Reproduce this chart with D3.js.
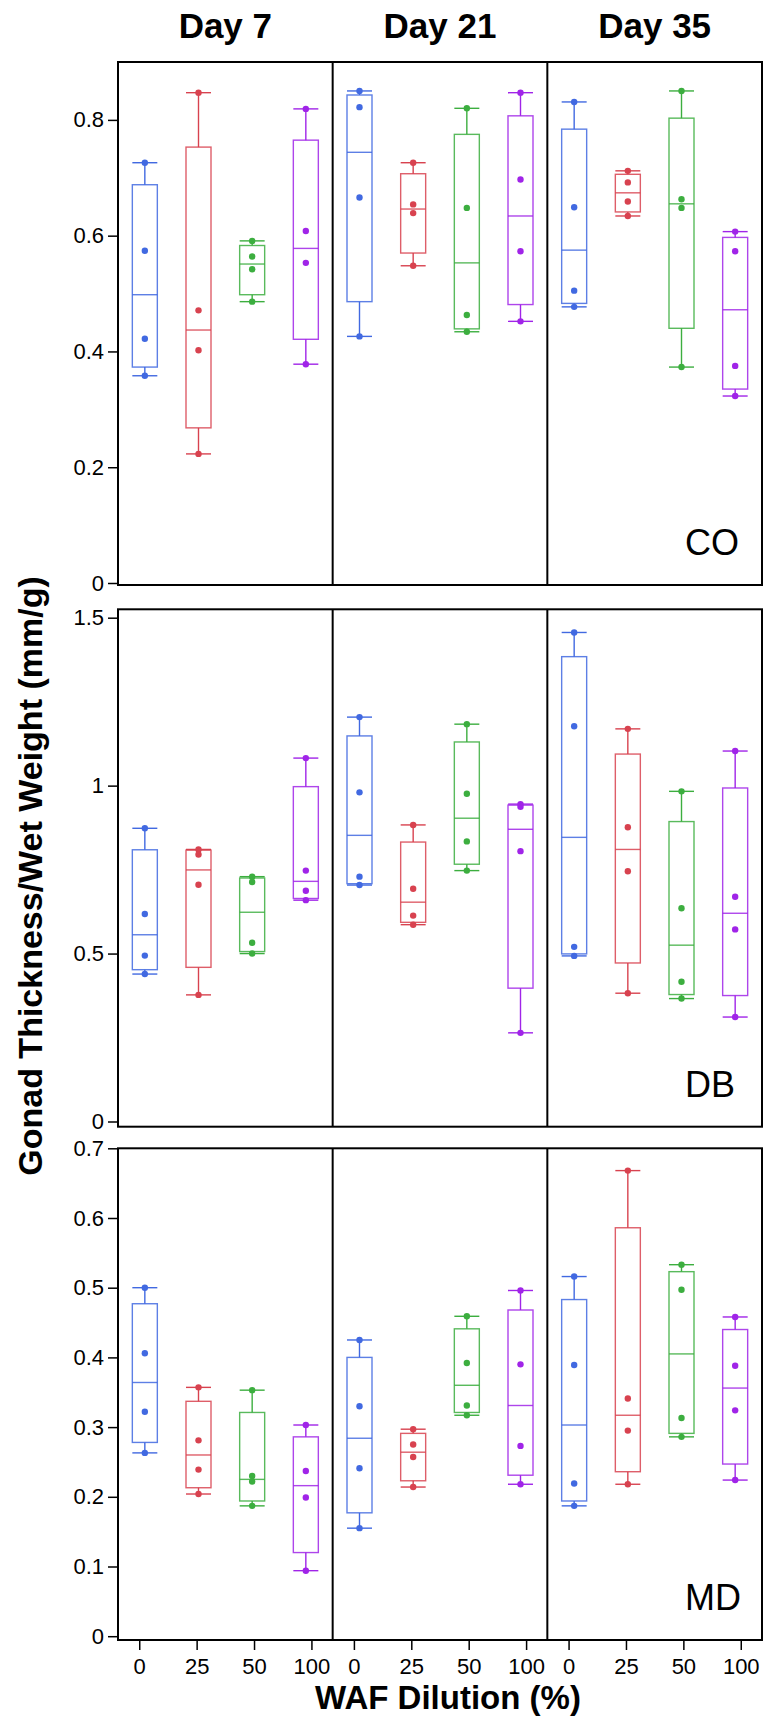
<!DOCTYPE html>
<html lang="en">
<head>
  <meta charset="UTF-8">
  <title>Gonad Thickness/Wet Weight</title>
  <script src="https://d3js.org/d3.v7.min.js"></script>
  <style>
    body { margin: 0; background: #fff; }
    svg text { font-family: "Liberation Sans", Arial, sans-serif; fill: #000; }
  </style>
</head>
<body>
  <div id="chart"></div>

  <script>
    // categories
    const days = ["Day 7", "Day 21", "Day 35"];
    const doses = ["0", "25", "50", "100"];
    const tissues = ["CO", "DB", "MD"];
    const doseColors = ["#4169e1", "#d8424f", "#3cae3f", "#a024e8"];

    // y ticks for each tissue panel
    const coTicks = [0, 0.2, 0.4, 0.6, 0.8];
    const dbTicks = [0, 0.5, 1, 1.5];
    const mdTicks = [0, 0.1, 0.2, 0.3, 0.4, 0.5, 0.6, 0.7];

    // raw points, one list per group (Day 7: 0,25,50,100 | Day 21 ... | Day 35 ...)
    const coPoints = [
      [0.726, 0.574, 0.422, 0.358], [0.847, 0.471, 0.402, 0.223], [0.591, 0.564, 0.542, 0.486], [0.819, 0.608, 0.553, 0.378],
      [0.850, 0.822, 0.666, 0.426], [0.726, 0.654, 0.639, 0.548], [0.820, 0.648, 0.463, 0.434], [0.847, 0.697, 0.573, 0.452],
      [0.831, 0.649, 0.505, 0.477], [0.712, 0.692, 0.659, 0.634], [0.850, 0.663, 0.648, 0.373], [0.607, 0.573, 0.375, 0.323]
    ];
    // box stats [q1, median, q3]
    const coBoxes = [
      [0.373, 0.498, 0.688], [0.268, 0.437, 0.753], [0.498, 0.551, 0.583], [0.421, 0.578, 0.765],
      [0.486, 0.744, 0.843], [0.570, 0.646, 0.707], [0.439, 0.553, 0.775], [0.481, 0.634, 0.807],
      [0.483, 0.575, 0.784], [0.641, 0.674, 0.706], [0.440, 0.655, 0.803], [0.335, 0.472, 0.597]
    ];

    const dbPoints = [
      [0.873, 0.618, 0.494, 0.439], [0.810, 0.795, 0.705, 0.377], [0.729, 0.713, 0.532, 0.500], [1.082, 0.747, 0.687, 0.659],
      [1.204, 0.980, 0.729, 0.704], [0.883, 0.693, 0.613, 0.586], [1.183, 0.976, 0.834, 0.747], [0.945, 0.937, 0.805, 0.264],
      [1.456, 1.177, 0.520, 0.493], [1.169, 0.876, 0.745, 0.382], [0.983, 0.635, 0.416, 0.366], [1.103, 0.669, 0.572, 0.311]
    ];
    const dbBoxes = [
      [0.452, 0.556, 0.809], [0.459, 0.749, 0.808], [0.506, 0.623, 0.725], [0.664, 0.715, 0.997],
      [0.708, 0.852, 1.148], [0.593, 0.653, 0.832], [0.766, 0.903, 1.130], [0.397, 0.870, 0.942],
      [0.499, 0.846, 1.384], [0.472, 0.810, 1.094], [0.378, 0.525, 0.893], [0.375, 0.620, 0.993]
    ];

    const mdPoints = [
      [0.500, 0.406, 0.322, 0.263], [0.357, 0.281, 0.239, 0.204], [0.353, 0.230, 0.222, 0.187], [0.303, 0.237, 0.199, 0.094],
      [0.425, 0.330, 0.241, 0.155], [0.297, 0.275, 0.257, 0.214], [0.459, 0.392, 0.331, 0.317], [0.496, 0.390, 0.273, 0.218],
      [0.516, 0.389, 0.219, 0.187], [0.668, 0.341, 0.295, 0.218], [0.533, 0.497, 0.313, 0.286], [0.458, 0.388, 0.324, 0.224]
    ];
    const mdBoxes = [
      [0.278, 0.364, 0.477], [0.213, 0.260, 0.337], [0.194, 0.225, 0.321], [0.120, 0.216, 0.286],
      [0.177, 0.284, 0.400], [0.223, 0.264, 0.291], [0.321, 0.360, 0.441], [0.231, 0.331, 0.468],
      [0.194, 0.303, 0.483], [0.236, 0.317, 0.586], [0.291, 0.405, 0.523], [0.247, 0.356, 0.440]
    ];

    const width = 765;
    const height = 1722;
    const left = 118, right = 762;
    const boxW = 25;

    // panel layout (pixel rows) and y domains
    const panels = [
      { name: "CO", points: coPoints, boxes: coBoxes, ticks: coTicks, top: 62, bottom: 585, zero: 583, dmax: 0.9 },
      { name: "DB", points: dbPoints, boxes: dbBoxes, ticks: dbTicks, top: 609.3, bottom: 1126.7, zero: 1121.5, dmax: 1.525 },
      { name: "MD", points: mdPoints, boxes: mdBoxes, ticks: mdTicks, top: 1148.3, bottom: 1640, zero: 1636.2, dmax: 0.70 }
    ];

    const svg = d3.select('#chart')
      .append('svg')
      .attr('width', width)
      .attr('height', height);

    svg.append('rect').attr('width', width).attr('height', height).attr('fill', '#fff');

    const xFacet = d3.scaleBand().domain(days).range([left, right]).padding(0);

    // boxes sit at point positions inside each facet
    const xDose = d3.scalePoint().domain(doses).range([0, xFacet.bandwidth()]).padding(0.5);
    // tick marks are spread a bit wider than the boxes
    const xTick = d3.scalePoint().domain(doses).range([0, xFacet.bandwidth()]).padding(0.37);

    // facet titles
    svg.selectAll('.day-title')
      .data(days)
      .enter()
      .append('text')
      .attr('x', d => xFacet(d) + xFacet.bandwidth() / 2)
      .attr('y', 38)
      .attr('text-anchor', 'middle')
      .attr('font-size', '35px')
      .attr('font-weight', 'bold')
      .text(d => d);

    panels.forEach(p => {
      const y = d3.scaleLinear().domain([0, p.dmax]).range([p.zero, p.top]);
      const g = svg.append('g');

      // y axis
      const axis = d3.axisLeft(y)
        .tickValues(p.ticks)
        .tickFormat(d => String(d))
        .tickSize(9)
        .tickPadding(4);
      const ax = g.append('g')
        .attr('transform', `translate(${left - 1},0)`)
        .call(axis);
      ax.select('.domain').remove();
      ax.selectAll('.tick line').attr('stroke', '#000').attr('stroke-width', 1.5);
      ax.selectAll('.tick text')
        .attr('font-size', '22px')
        .attr('font-family', '"Liberation Sans", Arial, sans-serif')
        .attr('fill', '#000');

      // groups
      const groups = [];
      days.forEach((day, di) => {
        doses.forEach((dose, ki) => {
          const idx = di * doses.length + ki;
          const pts = p.points[idx];
          const [q1, med, q3] = p.boxes[idx];
          groups.push({
            cx: xFacet(day) + xDose(dose),
            color: doseColors[ki],
            pts, q1, med, q3,
            lo: d3.min(pts), hi: d3.max(pts)
          });
        });
      });

      const gg = g.selectAll('.grp')
        .data(groups)
        .enter()
        .append('g');

      // whiskers
      gg.append('line')
        .attr('x1', d => d.cx).attr('x2', d => d.cx)
        .attr('y1', d => y(d.q3)).attr('y2', d => y(d.hi))
        .attr('stroke', d => d.color).attr('stroke-width', 1.4);
      gg.append('line')
        .attr('x1', d => d.cx).attr('x2', d => d.cx)
        .attr('y1', d => y(d.q1)).attr('y2', d => y(d.lo))
        .attr('stroke', d => d.color).attr('stroke-width', 1.4);
      // caps
      gg.append('line')
        .attr('x1', d => d.cx - boxW / 2).attr('x2', d => d.cx + boxW / 2)
        .attr('y1', d => y(d.hi)).attr('y2', d => y(d.hi))
        .attr('stroke', d => d.color).attr('stroke-width', 1.4);
      gg.append('line')
        .attr('x1', d => d.cx - boxW / 2).attr('x2', d => d.cx + boxW / 2)
        .attr('y1', d => y(d.lo)).attr('y2', d => y(d.lo))
        .attr('stroke', d => d.color).attr('stroke-width', 1.4);

      // box
      gg.append('rect')
        .attr('x', d => d.cx - boxW / 2)
        .attr('width', boxW)
        .attr('y', d => y(d.q3))
        .attr('height', d => y(d.q1) - y(d.q3))
        .attr('fill', 'none')
        .attr('stroke', d => d.color)
        .attr('stroke-opacity', 0.85)
        .attr('stroke-width', 1.4);
      // median
      gg.append('line')
        .attr('x1', d => d.cx - boxW / 2).attr('x2', d => d.cx + boxW / 2)
        .attr('y1', d => y(d.med)).attr('y2', d => y(d.med))
        .attr('stroke', d => d.color).attr('stroke-opacity', 0.85).attr('stroke-width', 1.4);

      // points
      gg.selectAll('circle')
        .data(d => d.pts.map(v => ({ v, cx: d.cx, color: d.color })))
        .enter()
        .append('circle')
        .attr('cx', d => d.cx)
        .attr('cy', d => y(d.v))
        .attr('r', 3.2)
        .attr('fill', d => d.color);

      // frame and facet dividers
      g.append('rect')
        .attr('x', left).attr('y', p.top)
        .attr('width', right - left).attr('height', p.bottom - p.top)
        .attr('fill', 'none').attr('stroke', '#000').attr('stroke-width', 2);
      g.selectAll('.div')
        .data(days.slice(1))
        .enter()
        .append('line')
        .attr('x1', d => xFacet(d)).attr('x2', d => xFacet(d))
        .attr('y1', p.top).attr('y2', p.bottom)
        .attr('stroke', '#000').attr('stroke-width', 2);

      // tissue label
      g.append('text')
        .attr('x', 685)
        .attr('y', p.bottom - 30)
        .attr('font-size', '36px')
        .text(p.name);
    });

    // x axis on the bottom panel
    const xBottom = panels[2].bottom;
    days.forEach(day => {
      const ax = svg.append('g')
        .attr('transform', `translate(${xFacet(day)},${xBottom + 1})`)
        .call(d3.axisBottom(xTick).tickSize(9).tickPadding(8));
      ax.select('.domain').remove();
      ax.selectAll('.tick line').attr('stroke', '#000').attr('stroke-width', 1.5);
      ax.selectAll('.tick text')
        .attr('font-size', '22px')
        .attr('font-family', '"Liberation Sans", Arial, sans-serif')
        .attr('fill', '#000');
    });

    // axis titles
    svg.append('text')
      .attr('x', 448)
      .attr('y', 1709)
      .attr('text-anchor', 'middle')
      .attr('font-size', '33px')
      .attr('font-weight', 'bold')
      .text('WAF Dilution (%)');

    svg.append('text')
      .attr('transform', 'translate(42,876) rotate(-90)')
      .attr('text-anchor', 'middle')
      .attr('font-size', '34px')
      .attr('font-weight', 'bold')
      .text('Gonad Thickness/Wet Weight (mm/g)');
  </script>
</body>
</html>
